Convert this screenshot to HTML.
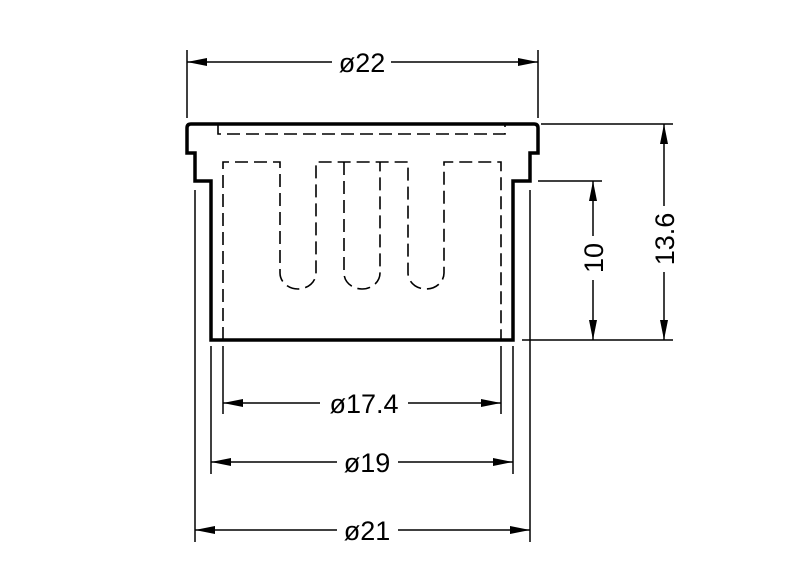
<!DOCTYPE html>
<html><head><style>body{margin:0;background:#fff}svg{display:block}</style></head><body>
<svg width="800" height="576" viewBox="0 0 800 576" xmlns="http://www.w3.org/2000/svg">
<defs>
<marker id="a" viewBox="0 0 20 8" refX="20" refY="4" markerWidth="20" markerHeight="8" markerUnits="userSpaceOnUse" orient="auto-start-reverse"><path d="M0 0L20 4L0 8z" fill="#000"/></marker>
</defs>
<g fill="none" stroke="#000">
<path d="M191 124 H534 Q538 124 538 128 V153 H530 V181 H513 V340 H211 V181 H195 V153 H187 V128 Q187 124 191 124Z" stroke-width="3.5"/>
<g stroke-width="1.6" stroke-dasharray="13 6">
<path d="M218 124 V134 H505 V124"/>
<path d="M223 340 V162 H280 V273 A18 16 0 0 0 316 273 V162 H408 V273 A18 16 0 0 0 444 273 V162 H501 V340"/>
<path d="M344 162 V273 A18 16 0 0 0 380 273 V162"/>
</g>
<g stroke-width="1.5">
<path d="M187 50 V118 M538 50 V118"/>
<path d="M195 190 V542 M530 190 V542"/>
<path d="M211 346 V474 M513 346 V474"/>
<path d="M223 346 V414 M501 346 V414"/>
<path d="M541 124 H673 M522 340 H673 M538 181 H602"/>
<path d="M187 62 H332 M391 62 H538" marker-start="url(#a)" marker-end="url(#a)"/>
<path d="M223 403 H320 M408 403 H501" marker-start="url(#a)" marker-end="url(#a)"/>
<path d="M211 462 H337 M398 462 H513" marker-start="url(#a)" marker-end="url(#a)"/>
<path d="M195 530 H337 M398 530 H530" marker-start="url(#a)" marker-end="url(#a)"/>
<path d="M593 181 V236 M593 280 V340" marker-start="url(#a)" marker-end="url(#a)"/>
<path d="M664 124 V206 M664 272 V340" marker-start="url(#a)" marker-end="url(#a)"/>
</g>
</g>
<g font-family="Liberation Sans, sans-serif" font-size="27" text-anchor="middle">
<text x="362" y="72">ø22</text>
<text x="364" y="413">ø17.4</text>
<text x="367" y="472">ø19</text>
<text x="367" y="540">ø21</text>
<text transform="translate(603,258) rotate(-90)">10</text>
<text transform="translate(674,239) rotate(-90)">13.6</text>
</g>
</svg>
</body></html>
